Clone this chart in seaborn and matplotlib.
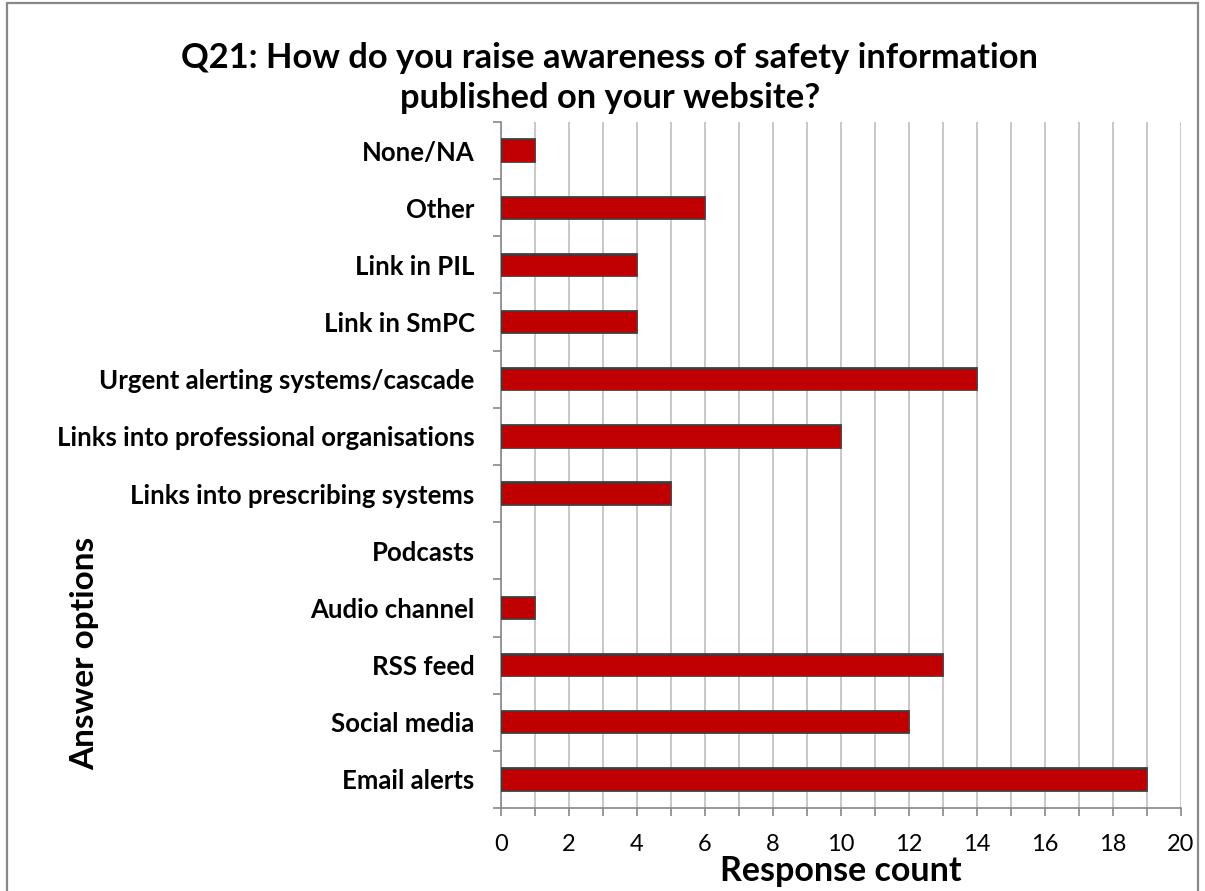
import matplotlib
matplotlib.use("Agg")
import matplotlib.pyplot as plt
import matplotlib.patches as mpatches
from matplotlib.ticker import MultipleLocator, FixedLocator
import seaborn as sns
import pandas as pd

categories = [
    "None/NA",
    "Other",
    "Link in PIL",
    "Link in SmPC",
    "Urgent alerting systems/cascade",
    "Links into professional organisations",
    "Links into prescribing systems",
    "Podcasts",
    "Audio channel",
    "RSS feed",
    "Social media",
    "Email alerts",
]
counts = [1, 6, 4, 4, 14, 10, 5, 0, 1, 13, 12, 19]

title_lines = ["Q21: How do you raise awareness of safety information",
               "published on your website?"]
x_label = "Response count"
y_label = "Answer options"

sns.set_theme(style="white")
plt.rcParams["font.family"] = ["Lato", "DejaVu Sans"]
plt.rcParams["text.color"] = "black"
plt.rcParams["xtick.color"] = "black"
plt.rcParams["ytick.color"] = "black"

df = pd.DataFrame({"option": categories, "count": counts})

fig = plt.figure(figsize=(12.05, 8.91), dpi=100)
ax = fig.add_axes([0.4158, 0.0931, 0.5643, 0.7700])

sns.barplot(data=df, x="count", y="option", orient="h", ax=ax,
            color="#C00000", saturation=1, width=0.39,
            edgecolor="#404040", linewidth=1.3, zorder=3)

# empty categories get no outline sliver on the axis
for bar in ax.patches:
    if bar.get_width() == 0:
        bar.set_linewidth(0)

ax.set_xlim(0, 20)
ax.set_ylim(len(categories) - 0.5, -0.5)

ax.xaxis.set_major_locator(MultipleLocator(2))
ax.xaxis.set_minor_locator(MultipleLocator(1))
ax.grid(axis="x", which="both", color="#BFBFBF", linewidth=1.2, zorder=0)
ax.grid(axis="y", visible=False)
ax.set_axisbelow(True)

ax.yaxis.set_minor_locator(FixedLocator([i - 0.5 for i in range(len(categories) + 1)]))
ax.tick_params(axis="y", which="major", length=0, pad=19, labelsize=18.5,
               labelcolor="black")
ax.tick_params(axis="y", which="minor", length=6, width=1.2, color="#888888", left=True)
ax.tick_params(axis="x", which="major", length=6, width=1.2, color="#888888",
               bottom=True, labelsize=17, pad=13, labelcolor="black")
ax.tick_params(axis="x", which="minor", length=6, width=1.2, color="#888888", bottom=True)
for lbl in ax.get_yticklabels():
    lbl.set_fontweight("bold")

for side in ("top", "right"):
    ax.spines[side].set_visible(False)
for side in ("left", "bottom"):
    ax.spines[side].set_color("#888888")
    ax.spines[side].set_linewidth(1.2)

ax.set_xlabel("")
ax.set_ylabel("")
fig.text(0.698, 0.011, x_label, fontsize=24.5, fontweight="bold",
         ha="center", va="baseline")
fig.text(0.0705, 0.267, y_label, rotation=90, fontsize=24, fontweight="bold",
         ha="center", va="center")
fig.text(0.506, 0.9237, title_lines[0], fontsize=24.8, fontweight="bold",
         ha="center", va="baseline")
fig.text(0.506, 0.8788, title_lines[1], fontsize=24.8, fontweight="bold",
         ha="center", va="baseline")

fig.patches.append(mpatches.Rectangle((0.0058, -0.05), 0.9884, 1.0471,
                                      transform=fig.transFigure, fill=False,
                                      edgecolor="#888888", linewidth=1.6))

fig.savefig("out.png", dpi=100)
